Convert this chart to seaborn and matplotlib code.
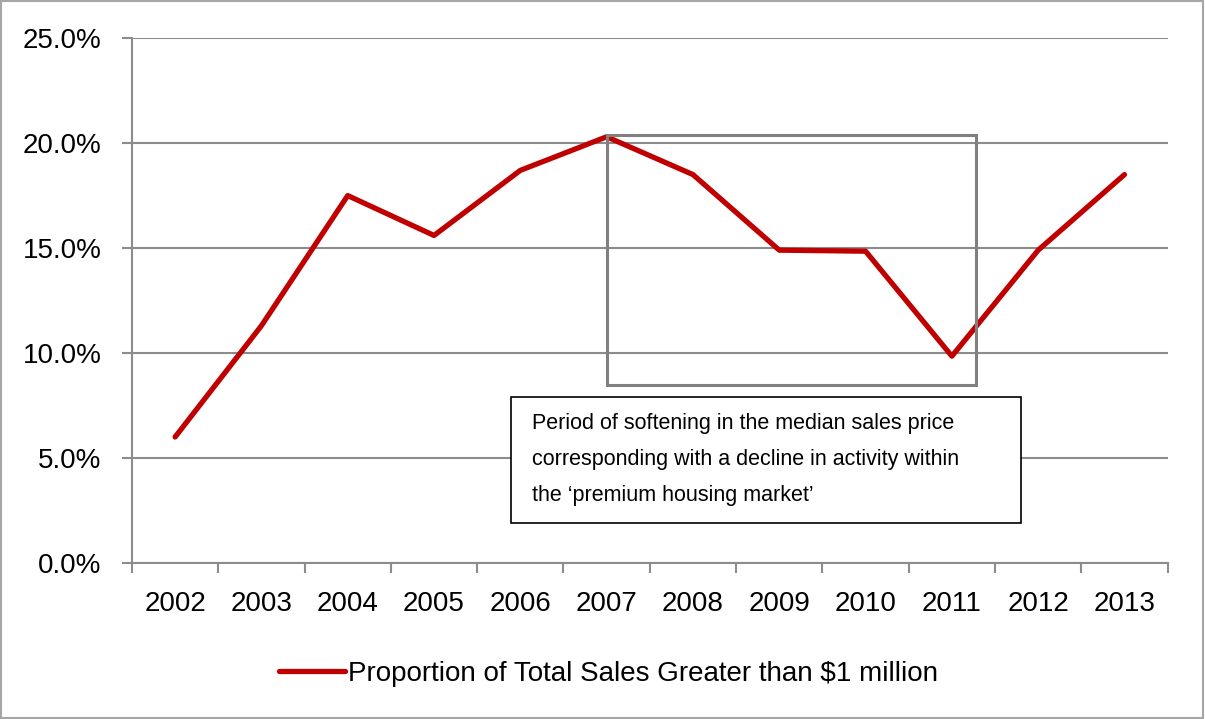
import matplotlib.pyplot as plt
import matplotlib.patches as mpatches
from matplotlib.ticker import FixedLocator, PercentFormatter
import pandas as pd
import seaborn as sns

years = ['2002', '2003', '2004', '2005', '2006', '2007',
         '2008', '2009', '2010', '2011', '2012', '2013']
share = [6.0, 11.3, 17.5, 15.6, 18.7, 20.3,
         18.5, 14.9, 14.85, 9.85, 14.9, 18.5]
y_ticks = [0, 5, 10, 15, 20, 25]
series_label = 'Proportion of Total Sales Greater than $1 million'
note = ("Period of softening in the median sales price\n"
        "corresponding with a decline in activity within\n"
        "the \u2018premium housing market\u2019")

GRID = '#8c8c8c'
RED = '#c00000'

sns.set_style('white')
plt.rcParams['font.family'] = ['Liberation Sans Narrow', 'Liberation Sans', 'DejaVu Sans']
plt.rcParams['text.color'] = 'black'
plt.rcParams['xtick.labelcolor'] = 'black'
plt.rcParams['ytick.labelcolor'] = 'black'

df = pd.DataFrame({'Year': years, 'Share': share})

fig = plt.figure(figsize=(12.05, 7.19), dpi=100)
ax = fig.add_axes([0.1095, 0.217, 0.8595, 0.73])

sns.lineplot(data=df, x='Year', y='Share', color=RED, linewidth=3.8,
             label=series_label, ax=ax, sort=False)

ax.set_xlim(-0.5, len(years) - 0.5)
ax.set_ylim(0, 25)
ax.set_yticks(y_ticks)
ax.yaxis.set_major_formatter(PercentFormatter(decimals=1))
ax.set_xticks(range(len(years)))
ax.set_xticklabels(years)
ax.xaxis.set_minor_locator(FixedLocator([i - 0.5 for i in range(len(years) + 1)]))

ax.grid(axis='y', color=GRID, linewidth=1.5)
ax.set_axisbelow(True)
for side in ['top', 'right']:
    ax.spines[side].set_visible(False)
for side in ['left', 'bottom']:
    ax.spines[side].set_color(GRID)
    ax.spines[side].set_linewidth(1.5)

ax.tick_params(axis='y', which='major', direction='out', length=7, width=1.5,
               color=GRID, labelsize=20, pad=15, left=True)
ax.tick_params(axis='x', which='major', length=0, labelsize=20, pad=20)
ax.tick_params(axis='x', which='minor', direction='out', length=7, width=1.5,
               color=GRID, bottom=True)
ax.set_xlabel('')
ax.set_ylabel('')

# highlighted period box
ax.add_patch(mpatches.Rectangle((5, 8.5), 4.28, 11.9, fill=False,
                                edgecolor='#808080', linewidth=2.2, zorder=3))

# note box
ax.add_patch(mpatches.Rectangle((3.89, 1.9), 5.91, 6.0, facecolor='white',
                                edgecolor='black', linewidth=1.2, zorder=4))
ax.text(4.13, 7.15, note, fontsize=15.5, va='top', ha='left',
        linespacing=1.95, zorder=5)

leg = ax.legend(loc='upper center', bbox_to_anchor=(0.46, -0.139), frameon=False,
                fontsize=20, handlelength=2.4, handletextpad=0.1)
for h in leg.get_lines():
    h.set_linewidth(3.8)
    h.set_solid_capstyle('round')

fig.patches.append(mpatches.Rectangle((0.001, 0.001), 0.997, 0.997,
                                      transform=fig.transFigure, fill=False,
                                      edgecolor='#a6a6a6', linewidth=1.5))

fig.savefig('out.png', dpi=100)
